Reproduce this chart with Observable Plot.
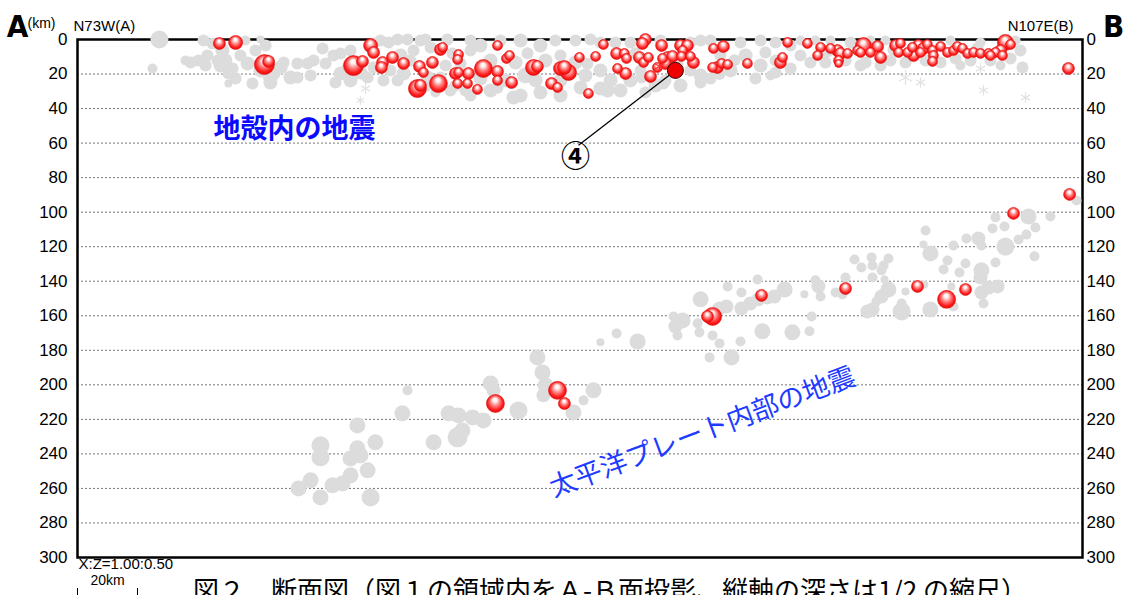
<!DOCTYPE html>
<html><head><meta charset="utf-8">
<script src="https://cdn.jsdelivr.net/npm/d3@7"></script>
<script src="https://cdn.jsdelivr.net/npm/@observablehq/plot@0.6"></script>
<style>
html,body{margin:0;padding:0;background:#fff;overflow:hidden;}
#wrap{position:relative;width:1134px;height:595px;}
#caption{position:absolute;left:193px;top:573px;font-family:"Noto Sans CJK JP",sans-serif;font-size:26px;white-space:nowrap;color:#000;line-height:1.2;}
</style></head><body><div id="wrap"><div id="chart"></div><div id="caption"></div></div>
<script>
// [distance along A-B (km), depth (km), magnitude]
const depthTicks = [0,20,40,60,80,100,120,140,160,180,200,220,240,260,280,300];
const gridDepths = [20,40,60,80,100,120,140,160,180,200,220,240,260,280];

const crustalGray = [
[27.3,0,4.5],[25,16.8,2.5],[61,0,2],[37.7,13.3,3],[40.3,12.2,3],[43.3,9.3,3],[42,0.6,3],[45,2.3,3],[48.3,6.4,3.5],[49.3,12.2,3.5],
[47.7,15.1,3.5],[50.3,19.7,3],[50.3,25.5,2],[46.7,12.2,3],[56.7,13.9,3.5],[58.3,25.5,3],[61,17.9,3.5],[64.3,20.8,4],[65.3,19.7,3.5],[67.7,16.2,3.5],
[68.7,13.3,3],[71,22,3.5],[64.3,24.9,3.5],[73.3,13.9,3],[54.3,9.3,3],[59.3,6.4,3],[62.7,3.5,3],[56,0.6,2.5],[42.7,15.1,3],[36,12.2,2.5],
[51.7,16.8,3],[76.7,13.9,3],[73.3,22,3],[78.7,12.2,3],[81.7,5.2,3],[82.7,13.9,3],[85.3,9.3,3],[87.7,8.1,3],[91,6.4,3],[90,16.2,3],
[87.7,19.7,3.5],[91,23.7,3.5],[94.3,19.1,3.5],[96.7,22,3],[98.7,16.2,3],[98.7,2.3,3],[101,0.6,3],[103.7,1.7,3],[106.7,0,3],[110,0,3],
[112,6.4,3],[114.3,0.6,3],[116,0,3],[117.7,4.6,3],[123.3,0,3],[125,8.1,3],[121,22,3],[116.7,22,3.5],[108.7,19.7,3.5],[106.7,23.7,3],
[104.3,17.9,3],[102,23.7,3],[127.7,13.9,3],[107.7,9.3,3.5],[111,12.2,3],[122.7,15.1,3],[119.3,30.7,2.5],[124.3,29.5,3],[129.3,29.5,3],[131,6.4,3],
[131,0.6,3],[134.3,3.5,3.5],[141,0.6,3],[147.7,0.6,3.5],[154.3,3.5,3.5],[159.3,0.6,3],[166,0.6,3],[171,0,3],[174.3,1.7,3],[179.3,1.7,3],
[184.3,1.7,3],[194.3,0.6,3],[207.7,0.6,3],[211,0.6,3],[221,1.7,3],[227.7,0.6,3],[232.7,1.7,3],[137.7,12.2,3.5],[146,13.3,3.5],[149.3,20.8,4],
[156,12.2,3.5],[161,9.3,3],[166,13.3,3.5],[169.3,20.8,3.5],[174.3,17.9,3.5],[177.7,23.7,3.5],[184.3,23.7,3.5],[187.7,17.9,3],[192.7,26.6,3.5],[196,23.7,3],
[207.7,20.8,3.5],[211,22.6,3],[217.7,17.9,3.5],[222.7,9.3,3.5],[227.7,15.1,3.5],[232.7,12.2,3],[131,32.4,3],[137.7,29.5,3.5],[147.7,32.4,3.5],[154.3,30.7,3.5],
[161,32.4,3.5],[174.3,28.4,3.5],[181,29.5,3.5],[189.3,30.7,3],[201,26.6,3.5],[207.7,24.9,3],[145.3,33.6,3.5],[167.7,27.8,3.5],[176.7,29.5,3.5],[195.3,25.5,3],
[134.3,22.6,3.5],[142.7,23.7,3.5],[152.7,23.7,3.5],[161,23.7,3.5],[204.3,17.9,3],[214.3,9.3,3],[204.3,1.7,3],[226,22.6,3],[231,20.8,2.5],[237.7,3.5,3],
[241,9.3,3],[244.3,13.3,3],[249.3,13.3,3],[256,12.2,3],[257.7,1.7,3],[262.7,13.3,3],[267.7,15.1,3],[271,12.2,3],[276,13.3,3],[282.7,12.2,3],
[287.7,13.3,3],[292.7,11,3],[297.7,12.2,3],[304.3,12.2,3],[311,11,3],[314.3,6.4,3],[315,16.2,3],[237.7,16.8,3],[232.7,19.1,3],[241,0.6,2.5],
[246,0.6,2.5],[251,0.6,2.5],[264.3,0.6,2.5],[269.3,0.6,2.5],[291,0.6,2.5],[301,1.7,2.5],[312.7,0.6,2.5],[229.3,7.5,3],[261,15.1,3],[294.3,15.1,2.5],
[307.7,15.1,2.5],[52.7,22.6,3],[86,24.9,3],[77.7,20.8,3],[126,26.6,3],[116,27,3],[170,14,3],[186,8,3],[200,14,3],[219,12,3],
[150,8,3],[140,28,3],[188,22,3],[214,20,3],[250,7,3],[280,8,3],[300,5,3],[272,6,3]
];

const slabGray = [
[333,93.2,2.5],[324.3,102.5,2.5],[317,102.5,4],[306,103,2.5],[319.3,108.9,2.5],[316.3,113,2.5],[313.7,115.8,2.5],[309.3,119.9,4.5],[309,108.3,2.5],[305,109.4,2.5],
[300.3,115.2,3.5],[296.3,115.2,2.5],[301.3,119.3,2.5],[292,119.3,2.5],[282.7,110.6,2.5],[282,118.7,2],[284.3,123.9,4],[290,128,2.5],[288.7,133.2,2.5],[296,129.7,2.5],
[294,134.9,2.5],[301.3,133.7,4],[301,137.8,3.5],[306,129.1,2.5],[319,125.6,2.5],[306.7,143,3.5],[303.7,143.6,3.5],[301.3,146.5,3.5],[302,152.9,2.5],[291.3,143,2],
[292,154.6,2.5],[284.3,156.3,4],[282.3,141.9,2],[276,145.9,2],[274.7,152.9,2.5],[274.7,157.5,4.5],[270.3,126.8,2.5],[268.7,130.9,2.5],[268,133.7,2.5],[265,130.9,2.5],
[264.7,126.2,2.5],[261.3,132,2.5],[259,127.4,2.5],[265,137.8,2.5],[269,139,2],[270.3,144.8,4],[268,148.8,3.5],[266.3,151.7,2.5],[265,156.3,3.5],[263.3,157.5,3.5],
[256,137.8,2.5],[255,147.6,2.5],[252.7,146.5,2.5],[247,143,3.5],[246,139.5,2.5],[247.7,148.8,2.5],[242.3,147.6,2],[244.7,160.4,2.5],[244,169,2.5],[238.3,169.6,4],
[235.7,144.8,4],[232.3,148.8,3.5],[230,150,3],[226.7,139,2.5],[227,150.5,3.5],[224.3,152.9,3.5],[221.3,155.8,3.5],[221.3,146.5,2.5],[216.7,143,2.5],[216.3,154.6,3.5],
[214,155.8,3.5],[207.7,150.5,4],[201.7,162.7,4],[198.7,160.4,2.5],[199.3,166.2,3.5],[200,171.4,2.5],[207.3,169.6,2.5],[206.7,164.4,2.5],[211.7,171.4,2.5],[214,176,2.5],
[221,174.9,2.5],[228.3,169,4],[186.7,174.9,4],[179.7,170.2,2.5],[174.3,175.4,2],[210.7,184.1,2.5],[218,184.1,4],
[153.3,184.1,4],[155,192.8,4],[156,200.3,4],[155.3,206.1,3.5],[137.7,199.2,4],[138.7,203.2,3.5],[110,203.2,2.5],[147,214.8,4.5],[165.3,216,4],[168.7,209,2.5],
[172,203.2,4],[123.7,216.5,4],[127,217.7,4],[131.7,218.9,4],[135.3,220.6,4],[128.3,226.4,4],[126.7,230.4,5],[118.7,233.3,4],[108.3,216.5,4],[93.3,223.5,4],
[99.3,233.3,4],[93.3,236.8,4],[94.3,240.9,4],[91,242.6,4],[96.7,249.5,4],[81,235,4.5],[81,242,4.5],[91,252.4,4],[88.3,257.1,4],[85,258.2,4],
[77.7,255.3,4],[73.7,260,4],[81,265.2,4],[97.7,265.2,4.5]
];

const faintStars = [[276,22,3.5],[281,24.9,2.5],[301,16.8,2.5],[302,29.5,2.5],[316,33.6,2.5],[96,28.4,2.5],[94.3,35.3,2]];

const crustalRed = [
[47.3,2.3,3],[52.7,1.7,3.5],[62.3,14.5,5],[63.7,12.7,3],[92,15.1,5],[95,12.7,3],[97.7,3.5,3.5],[98.7,7.5,3],[101.7,13.3,3],[101.3,16.2,3],
[105,10.4,3],[108.7,13.9,3],[114,15.6,3],[115.3,19.1,2.5],[118.3,13.3,3],[121,5.8,3],[121.7,4.6,2.5],[127,8.7,2.5],[126.7,11.6,2.5],[126,19.7,3],
[127,19.1,2.5],[126.7,25.5,2.5],[113.3,28.4,4.5],[114.3,26.6,3],[120.3,25.5,4.5],[130.3,19.7,3],[130,25.5,2.5],[133.3,28.9,2.5],[135.3,16.8,4.5],[140,18.5,3],
[140,23.7,2.5],[140,3.5,2.5],[143,11,2.5],[144,9.3,2.5],[144.7,24.9,3],[152,16.2,4],[153.3,15.6,3],[158,25.5,3],[160,27.8,2.5],[161,16.8,3.5],
[163.7,19.1,4],[162.3,16.2,3.5],[167.3,10.4,2.5],[170.3,31.3,2.5],[172.7,9.8,2.5],[175.3,2.9,2.5],[179.7,8.1,3],[182.3,8.1,2.5],[183,11,2.5],[180,16.8,2.5],
[182.7,19.7,3],[187.3,10.4,3],[188.7,13.3,2.5],[190.3,10.4,2.5],[189.3,0,3],[188.3,2.3,3],[191,21.4,3],[194.7,3.5,3],[195,11,2.5],[196.7,10.4,3],
[198.3,9.8,3],[196,13.9,3],[193.3,16.2,2.5],[201,3.5,3],[203.3,3.5,3],[201.7,6.4,2.5],[201.3,9.8,2.5],[204.3,9.8,2.5],[205.3,13.3,3],[212,5.2,2.5],
[215.3,4.1,3],[213.3,16.2,3],[214.7,13.9,2.5],[216.7,14.5,2.5],[211.7,16.2,2.5],[223.3,13.9,2.5],[235,10.4,2.5],[234.3,13.3,3],[236.7,1.7,2.5],
[243.3,2.3,2.5],[247.7,4.6,2.5],[246.7,9.3,2.5],[251,5.2,2.5],[253.3,6.4,3],[254.3,8.1,3],[253.7,12.2,2.5],[253.7,13.9,2],[256.7,8.1,2.5],[260,6.4,2.5],
[262,3.5,4],[261,7.5,2.5],[264.3,7.5,2.5],[266.7,4.1,3],[267.7,10.4,3],[272.7,3.5,3],[274.3,2.3,2.5],[273.7,7.5,2.5],[276.7,7.5,2.5],[278.3,4.6,2.5],
[278.7,9.3,3],[280.3,3.5,3],[282,5.2,3],[283.3,2.9,2.5],[281,7.5,2.5],[285,6.4,2.5],[285.3,9.3,2.5],[285,12.7,2.5],[287.7,4.1,2.5],[290,7.5,2.5],
[292,6.4,2.5],[293.3,4.1,2.5],[295,5.2,2.5],[296.7,8.1,2.5],[298.7,7.5,2.5],[301,8.1,2.5],[303.7,8.1,2.5],[306,7.5,2.5],[307.7,6.4,3],[309.3,1.7,4],
[311,2.9,2.5],[308.3,9.3,2.5],[304.3,9.3,2.5],[330.3,16.8,3]
];

const slabRed = [
[330.7,89.7,3],[312,100.7,3],[280,143,3],[296,144.8,3],[289.7,150.5,4.5],[256,144.2,3],[228,148.2,3],[211.7,160.4,4.5],[210,160.4,3],
[139.3,210.8,4.5],[160,203.2,4.5],[162.3,210.8,3]
];

const event4 = [[199.3,17.9,4.5]];
const event4Label = [[166,68.3]];
const redStar = [[194,15.6,2.5]];

const labelCrust = "地殻内の地震";
const labelSlab = "太平洋プレート内部の地震";
const captionText = "図２　断面図（図１の領域内をＡ-Ｂ面投影、縦軸の深さは1/2 の縮尺）";

const X = d => d[0], Y = d => d[1], M = d => d[2];
const font = "Liberation Sans, Arial, sans-serif";
const cjk = "Noto Sans CJK JP, sans-serif";

const plot = Plot.plot({
  width: 1134, height: 595,
  marginLeft: 77, marginRight: 52, marginTop: 39, marginBottom: 38,
  style: {fontFamily: font, background: "#fff", overflow: "visible"},
  x: {domain: [0, 335], axis: null},
  y: {domain: [0, 300], reverse: true, axis: null},
  r: {type: "linear", domain: [2, 5], range: [4, 10]},
  marks: [
    Plot.gridY(gridDepths, {stroke: "#777", strokeOpacity: 1, strokeWidth: 1, strokeDasharray: "2,2"}),
    Plot.frame({stroke: "#000", strokeWidth: 2.5}),
    Plot.axisY(depthTicks, {anchor: "left", tickSize: 0, tickPadding: 10, fontSize: 17, label: null}),
    Plot.axisY(depthTicks, {anchor: "right", tickSize: 0, tickPadding: 4, fontSize: 17, label: null}),
    Plot.dot(crustalGray, {x: X, y: Y, r: M, fill: "#dcdcdc", stroke: null}),
    Plot.dot(slabGray, {x: X, y: Y, r: M, fill: "#dcdcdc", stroke: null}),
    Plot.dot(faintStars, {x: X, y: Y, r: M, symbol: "asterisk", stroke: "#e2e2e2", strokeWidth: 1.2}),
    Plot.link(event4Label, {x1: d => d[0] + 1, y1: d => d[1] - 7, x2: event4[0][0], y2: event4[0][1], stroke: "#000", strokeWidth: 1.3}),
    Plot.dot(crustalRed, {x: X, y: Y, r: M, fill: "url(#glossy)", stroke: "#e01010", strokeWidth: 0.6}),
    Plot.dot(slabRed, {x: X, y: Y, r: M, fill: "url(#glossy)", stroke: "#e01010", strokeWidth: 0.6}),
    Plot.dot(redStar, {x: X, y: Y, r: M, symbol: "asterisk", stroke: "#ff3030", strokeWidth: 1.2}),
    Plot.dot(event4, {x: X, y: Y, r: 8, fill: "#ee0000", stroke: "#300", strokeWidth: 1}),
    Plot.text(event4Label, {x: X, y: Y, text: () => "④", fontSize: 29, fontWeight: "bold", fontFamily: cjk, fill: "#000"}),
    Plot.text([labelCrust], {x: 72.3, y: 52.1, text: d => d, fontSize: 27, fontWeight: "bold", fontFamily: cjk, fill: "#0a0aff"}),
    Plot.text([labelSlab], {x: 208.3, y: 227.5, text: d => d, fontSize: 27, rotate: -20.5, fontFamily: cjk, fill: "#1e3cff"}),
    Plot.text(["A"], {frameAnchor: "top-left", text: d => d, dx: -60, dy: -3, lineAnchor: "bottom", textAnchor: "middle", fontSize: 31, fontWeight: "bold", fontFamily: "Liberation Sans Narrow, DejaVu Sans Condensed, sans-serif"}),
    Plot.text(["(km)"], {frameAnchor: "top-left", text: d => d, dx: -50, dy: -21, textAnchor: "start", fontSize: 14}),
    Plot.text(["N73W(A)"], {frameAnchor: "top-left", text: d => d, dx: -4, dy: -19, textAnchor: "start", fontSize: 15}),
    Plot.text(["N107E(B)"], {frameAnchor: "top-right", text: d => d, dx: -9, dy: -19, textAnchor: "end", fontSize: 15}),
    Plot.text(["B"], {frameAnchor: "top-right", text: d => d, dx: 31, dy: -3, lineAnchor: "bottom", textAnchor: "middle", fontSize: 31, fontWeight: "bold", fontFamily: "Liberation Sans Narrow, DejaVu Sans Condensed, sans-serif"}),
    Plot.text(["X:Z=1.00:0.50"], {frameAnchor: "bottom-left", text: d => d, dy: 11, dx: 1, textAnchor: "start", fontSize: 15}),
    Plot.text(["20km"], {x: 10, frameAnchor: "bottom", text: d => d, dy: 27, fontSize: 14}),
    Plot.ruleX([0, 20], {y1: 318, y2: 326, stroke: "#000", strokeWidth: 1})
  ]
});

const defs = d3.select(plot).insert("defs", ":first-child");
const grad = defs.append("radialGradient").attr("id", "glossy")
  .attr("cx", "50%").attr("cy", "50%").attr("r", "55%").attr("fx", "47%").attr("fy", "26%");
[[0, "#ffffff"], [0.2, "#fff0f0"], [0.45, "#ff8a8a"], [0.75, "#ff2020"], [1, "#e00000"]]
  .forEach(([o, c]) => grad.append("stop").attr("offset", o).attr("stop-color", c));

document.getElementById("chart").appendChild(plot);
document.getElementById("caption").textContent = captionText;
</script>
</body></html>
